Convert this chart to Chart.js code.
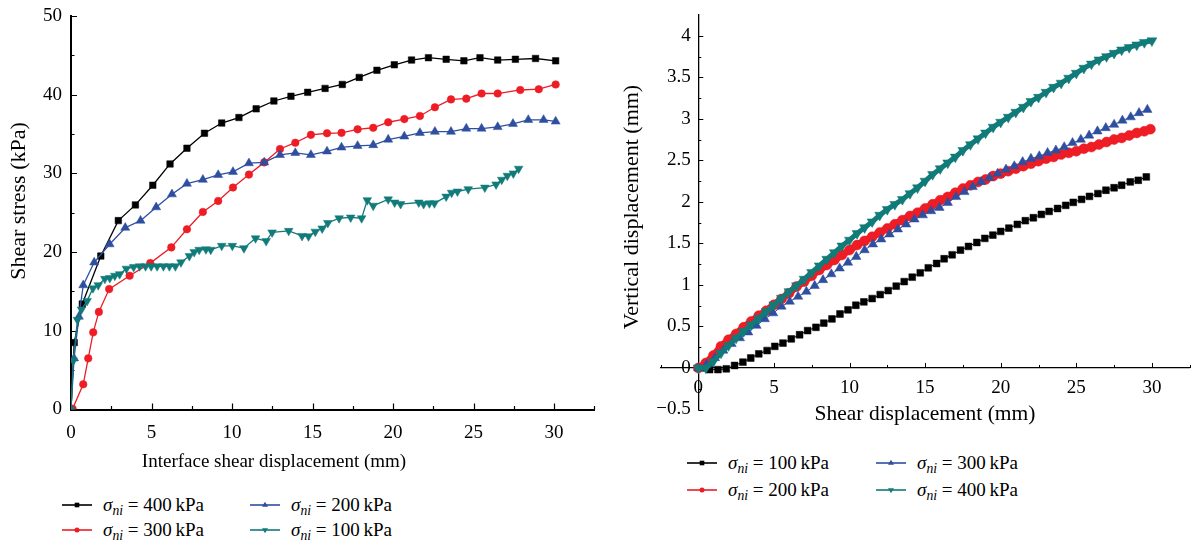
<!DOCTYPE html>
<html><head><meta charset="utf-8">
<script src="https://cdn.jsdelivr.net/npm/chart.js@4.4.1/dist/chart.umd.min.js"></script>
<style>
html,body{margin:0;padding:0;background:#fff;}
#wrap{position:relative;width:1196px;height:546px;overflow:hidden;font-family:'Liberation Serif','DejaVu Serif',serif;}
#c1{position:absolute;left:0;top:0;}
#c2{position:absolute;left:600px;top:0;}
.leg{position:absolute;display:flex;align-items:center;height:24px;font-size:19px;color:#000;white-space:nowrap;}
.leg svg{margin-right:11px;flex:none;}
.leg sub{font-size:0.72em;vertical-align:-0.32em;line-height:0;}
</style></head>
<body><div id="wrap">
<canvas id="c1" width="600" height="480"></canvas>
<canvas id="c2" width="596" height="430"></canvas>
</div>
<script>
// ---------- Left chart: shear stress (kPa) vs interface shear displacement (mm)
const shearTitleX = 'Interface shear displacement (mm)';
const shearTitleY = 'Shear stress (kPa)';
const shearXTicks = [0, 5, 10, 15, 20, 25, 30];
const shearYTicks = [0, 10, 20, 30, 40, 50];
const shearXMinor = [2.5, 7.5, 12.5, 17.5, 22.5, 27.5, 32.5];
const shearYMinor = [5, 15, 25, 35, 45];
const shearLabels = ['400', '300', '200', '100'];

const shearX400 = [0, 0.2, 0.7, 1.85, 2.94, 4.0, 5.08, 6.15, 7.2, 8.29, 9.36, 10.43, 11.5, 12.6, 13.66, 14.7, 15.78, 16.85, 17.9, 19.0, 20.08, 21.15, 22.2, 23.3, 24.4, 25.4, 26.5, 27.6, 28.85, 30.1];
const shearY400 = [0, 8.5, 13.4, 19.5, 24.0, 26.0, 28.5, 31.2, 33.2, 35.1, 36.4, 37.1, 38.2, 39.2, 39.8, 40.3, 40.8, 41.3, 42.2, 43.1, 43.8, 44.4, 44.7, 44.5, 44.3, 44.7, 44.4, 44.5, 44.6, 44.3];

const shearX300 = [0.1, 0.76, 1.07, 1.38, 1.73, 2.37, 3.64, 4.92, 6.23, 7.2, 8.19, 9.14, 10.06, 11.05, 12.0, 12.98, 13.93, 14.9, 15.9, 16.8, 17.8, 18.77, 19.7, 20.7, 21.67, 22.6, 23.6, 24.55, 25.5, 26.5, 27.9, 29.05, 30.1];
const shearY300 = [0.1, 3.2, 6.5, 9.8, 12.4, 15.3, 17.0, 18.6, 20.6, 22.9, 25.1, 26.5, 28.2, 29.85, 31.4, 33.1, 33.9, 34.9, 35.1, 35.15, 35.6, 35.8, 36.5, 36.9, 37.3, 38.4, 39.4, 39.5, 40.15, 40.15, 40.6, 40.7, 41.3];

const shearX200 = [0, 0.19, 0.49, 0.76, 1.44, 2.4, 3.37, 4.32, 5.29, 6.27, 7.2, 8.19, 9.14, 10.06, 11.05, 12.0, 12.98, 13.93, 14.9, 15.9, 16.8, 17.8, 18.77, 19.7, 20.7, 21.67, 22.6, 23.6, 24.55, 25.5, 26.5, 27.45, 28.4, 29.35, 30.1];
const shearY200 = [0, 6.5, 11.8, 15.8, 18.7, 21.0, 23.1, 24.0, 25.7, 27.35, 28.7, 29.2, 29.8, 30.2, 31.3, 31.4, 32.35, 32.6, 32.35, 32.8, 33.3, 33.5, 33.6, 34.3, 34.7, 35.15, 35.3, 35.3, 35.7, 35.7, 35.9, 36.3, 36.8, 36.8, 36.6];

const shearX100 = [0, 0.14, 0.4, 0.65, 1.0, 1.36, 1.69, 2.1, 2.41, 2.72, 3.02, 3.44, 3.89, 4.26, 4.63, 4.98, 5.35, 5.74, 6.11, 6.48, 6.83, 7.35, 7.65, 7.96, 8.38, 8.68, 9.36, 10.02, 10.74, 11.46, 12.12, 12.49, 13.52, 14.35, 14.75, 15.17, 15.6, 15.95, 16.65, 17.37, 18.05, 18.4, 18.77, 19.7, 20.1, 20.47, 21.6, 21.9, 22.26, 22.57, 23.3, 23.64, 24.0, 24.67, 25.7, 26.4, 26.75, 27.1, 27.47, 27.8];
const shearY100 = [0, 6.2, 11.4, 12.7, 13.8, 15.4, 15.8, 16.6, 16.7, 17.0, 17.2, 17.9, 18.1, 18.2, 18.2, 18.2, 18.2, 18.2, 18.2, 18.2, 18.7, 19.5, 20.0, 20.3, 20.35, 20.3, 20.8, 20.8, 20.5, 21.75, 21.4, 22.5, 22.7, 22.05, 22.0, 22.6, 23.0, 23.7, 24.3, 24.4, 24.3, 26.6, 25.9, 26.7, 26.3, 26.1, 26.3, 26.1, 26.2, 26.2, 27.05, 27.55, 27.7, 28.0, 28.2, 28.6, 29.2, 29.7, 30.0, 30.6];

// ---------- Right chart: vertical displacement (mm) vs shear displacement (mm)
const vertTitleX = 'Shear displacement (mm)';
const vertTitleY = 'Vertical displacement (mm)';
const vertXTicks = [0, 5, 10, 15, 20, 25, 30];
const vertYTicks = [-0.5, 0, 0.5, 1, 1.5, 2, 2.5, 3, 3.5, 4];
const vertXMinor = [-2.5, 2.5, 7.5, 12.5, 17.5, 22.5, 27.5, 32.5];
const vertYMinor = [-0.25, 0.25, 0.75, 1.25, 1.75, 2.25, 2.75, 3.25, 3.75];
const vertLabels = ['100', '200', '300', '400'];

const vertX100 = [0.2, 0.75, 1.3, 1.85, 2.4, 2.95, 3.47, 4.0, 4.55, 5.06, 5.6, 6.15, 6.7, 7.23, 7.78, 8.3, 8.84, 9.37, 9.9, 10.42, 10.95, 11.5, 12.03, 12.56, 13.09, 13.62, 14.15, 14.68, 15.21, 15.76, 16.26, 16.79, 17.34, 17.87, 18.42, 18.95, 19.48, 20.0, 20.54, 21.1, 21.63, 22.16, 22.69, 23.2, 23.76, 24.3, 24.8, 25.35, 25.87, 26.43, 26.96, 27.5, 28.0, 28.57, 29.1, 29.63];
const vertY100 = [0, -0.02, -0.02, -0.01, 0.03, 0.07, 0.12, 0.17, 0.21, 0.26, 0.30, 0.35, 0.40, 0.45, 0.49, 0.54, 0.59, 0.65, 0.70, 0.755, 0.796, 0.836, 0.884, 0.932, 0.985, 1.04, 1.093, 1.146, 1.206, 1.258, 1.315, 1.363, 1.419, 1.463, 1.511, 1.56, 1.6, 1.644, 1.684, 1.729, 1.773, 1.809, 1.849, 1.885, 1.92, 1.958, 1.994, 2.03, 2.066, 2.1, 2.14, 2.17, 2.2, 2.24, 2.26, 2.30];

const vertX200 = [0, 0.5, 1, 1.5, 2, 2.5, 3, 3.5, 4, 4.5, 5, 5.5, 6, 6.5, 7, 7.5, 8, 8.5, 9, 9.5, 10, 10.5, 11, 11.5, 12, 12.5, 13, 13.5, 14, 14.5, 15, 15.5, 16, 16.5, 17, 17.5, 18, 18.5, 19, 19.5, 20, 20.5, 21, 21.5, 22, 22.5, 23, 23.5, 24, 24.5, 25, 25.5, 26, 26.5, 27, 27.5, 28, 28.5, 29, 29.5, 29.9];
const vertY200 = [0, 0.06, 0.15, 0.26, 0.34, 0.41, 0.49, 0.56, 0.63, 0.69, 0.76, 0.83, 0.90, 0.98, 1.04, 1.11, 1.18, 1.24, 1.30, 1.36, 1.42, 1.48, 1.53, 1.58, 1.63, 1.68, 1.73, 1.78, 1.83, 1.87, 1.92, 1.97, 2.02, 2.06, 2.11, 2.16, 2.20, 2.24, 2.27, 2.31, 2.34, 2.37, 2.40, 2.43, 2.46, 2.49, 2.52, 2.54, 2.57, 2.59, 2.61, 2.64, 2.66, 2.69, 2.72, 2.75, 2.77, 2.80, 2.83, 2.85, 2.875];

const vertX300 = [0, 0.55, 1.1, 1.65, 2.2, 2.75, 3.3, 3.85, 4.4, 4.95, 5.5, 6.05, 6.6, 7.15, 7.7, 8.25, 8.8, 9.35, 9.9, 10.45, 11.0, 11.55, 12.1, 12.65, 13.2, 13.75, 14.3, 14.85, 15.4, 15.95, 16.5, 17.05, 17.6, 18.15, 18.7, 19.25, 19.8, 20.35, 20.9, 21.45, 22.0, 22.55, 23.1, 23.65, 24.2, 24.75, 25.3, 25.85, 26.4, 26.95, 27.5, 28.05, 28.6, 29.15, 29.7];
const vertY300 = [0, 0.04, 0.12, 0.21, 0.29, 0.36, 0.43, 0.51, 0.59, 0.66, 0.74, 0.80, 0.86, 0.92, 0.99, 1.06, 1.13, 1.20, 1.27, 1.34, 1.42, 1.49, 1.55, 1.61, 1.67, 1.73, 1.79, 1.84, 1.89, 1.93, 1.99, 2.06, 2.12, 2.18, 2.24, 2.29, 2.34, 2.39, 2.43, 2.48, 2.52, 2.55, 2.59, 2.62, 2.66, 2.71, 2.75, 2.80, 2.85, 2.89, 2.93, 2.98, 3.02, 3.07, 3.11];

const vertX400 = [0, 0.5, 1, 1.5, 2, 2.5, 3, 3.5, 4, 4.5, 5, 5.5, 6, 6.5, 7, 7.5, 8, 8.5, 9, 9.5, 10, 10.5, 11, 11.5, 12, 12.5, 13, 13.5, 14, 14.5, 15, 15.5, 16, 16.5, 17, 17.5, 18, 18.5, 19, 19.5, 20, 20.5, 21, 21.5, 22, 22.5, 23, 23.5, 24, 24.5, 25, 25.5, 26, 26.5, 27, 27.5, 28, 28.5, 29, 29.5, 30];
const vertY400 = [0, 0.0, 0.08, 0.18, 0.27, 0.36, 0.44, 0.52, 0.60, 0.68, 0.76, 0.84, 0.92, 0.99, 1.07, 1.15, 1.23, 1.31, 1.39, 1.47, 1.54, 1.62, 1.69, 1.76, 1.84, 1.91, 1.97, 2.03, 2.10, 2.17, 2.25, 2.33, 2.40, 2.47, 2.54, 2.62, 2.69, 2.76, 2.83, 2.90, 2.96, 3.02, 3.08, 3.14, 3.21, 3.26, 3.32, 3.38, 3.43, 3.49, 3.55, 3.61, 3.66, 3.71, 3.75, 3.79, 3.83, 3.86, 3.89, 3.92, 3.94];

// ---------- styling
const C_BLACK = '#000000', C_RED = '#ee1c25', C_BLUE = '#2e4f9f', C_TEAL = '#117b79';
const FONT = "'Liberation Serif', 'DejaVu Serif', serif";

function pts(xs, ys) { return xs.map((x, i) => ({x: x, y: ys[i]})); }
function fmt(v) { return v < 0 ? '\u2212' + Math.abs(v) : String(v); }
function noPad(s) { s.paddingTop = 0; s.paddingBottom = 0; s.paddingLeft = 0; s.paddingRight = 0; }

const axisDecor = {
  id: 'axisDecor',
  beforeDatasetsDraw(chart, args, o) {
    const {ctx, chartArea} = chart;
    const xs = chart.scales.x, ys = chart.scales.y;
    const xLine = o.xAxisAt == null ? chartArea.bottom : ys.getPixelForValue(o.xAxisAt);
    const yLine = o.yAxisAt == null ? chartArea.left : xs.getPixelForValue(o.yAxisAt);
    ctx.save();
    ctx.strokeStyle = '#000';
    ctx.lineWidth = o.tickWidth;
    ctx.beginPath();
    const vt = (vals, len) => vals.forEach(v => { const p = Math.round(xs.getPixelForValue(v)) + 0.5; ctx.moveTo(p, xLine); ctx.lineTo(p, xLine - len); });
    const ht = (vals, len) => vals.forEach(v => { const p = Math.round(ys.getPixelForValue(v)) + 0.5; ctx.moveTo(yLine, p); ctx.lineTo(yLine + len, p); });
    vt(o.xMajor, o.majorLen); vt(o.xMinor, o.minorLen);
    ht(o.yMajor, o.majorLen); ht(o.yMinor, o.minorLen);
    ctx.stroke();
    ctx.restore();
  },
  afterDraw(chart, args, o) {
    const ctx = chart.ctx;
    ctx.save();
    ctx.fillStyle = '#000';
    ctx.textAlign = 'center';
    ctx.textBaseline = 'middle';
    ctx.font = o.xTitleSize + 'px ' + FONT;
    ctx.fillText(o.xTitle, o.xTitlePos[0], o.xTitlePos[1]);
    ctx.font = o.yTitleSize + 'px ' + FONT;
    ctx.translate(o.yTitlePos[0], o.yTitlePos[1]);
    ctx.rotate(-Math.PI / 2);
    ctx.fillText(o.yTitle, 0, 0);
    ctx.restore();
  }
};

// ---------- Left chart
new Chart(document.getElementById('c1'), {
  type: 'scatter',
  data: {
    datasets: [
      {label: shearLabels[0], data: pts(shearX400, shearY400), showLine: true, borderColor: C_BLACK, backgroundColor: C_BLACK, borderWidth: 1.3, pointStyle: 'rect', pointRadius: 4.6, pointBorderWidth: 0.5, order: 3},
      {label: shearLabels[1], data: pts(shearX300, shearY300), showLine: true, borderColor: C_RED, backgroundColor: C_RED, borderWidth: 1.3, pointStyle: 'circle', pointRadius: 3.8, pointBorderWidth: 0.5, order: 2},
      {label: shearLabels[2], data: pts(shearX200, shearY200), showLine: true, borderColor: C_BLUE, backgroundColor: C_BLUE, borderWidth: 1.3, pointStyle: 'triangle', pointRadius: 5.2, pointBorderWidth: 0.5, order: 1},
      {label: shearLabels[3], data: pts(shearX100, shearY100), showLine: true, borderColor: C_TEAL, backgroundColor: C_TEAL, borderWidth: 1.3, pointStyle: 'triangle', rotation: 180, pointRadius: 5.0, pointBorderWidth: 0.5, order: 0}
    ]
  },
  options: {
    responsive: false, animation: false, events: [],
    layout: {padding: {left: 0, right: -2.9, top: 16, bottom: 0}},
    plugins: {
      legend: {display: false}, tooltip: {enabled: false},
      axisDecor: {xAxisAt: null, yAxisAt: null, xMajor: shearXTicks, xMinor: shearXMinor, yMajor: shearYTicks, yMinor: shearYMinor,
        majorLen: 6, minorLen: 3.5, tickWidth: 1.2, xTitleSize: 19, yTitleSize: 22,
        xTitle: shearTitleX, xTitlePos: [274, 462], yTitle: shearTitleY, yTitlePos: [19, 201]}
    },
    scales: {
      x: {type: 'linear', min: 0, max: 32.5,
        grid: {display: false, drawTicks: false},
        border: {display: true, color: '#000', width: 2},
        ticks: {color: '#000', font: {family: FONT, size: 19}, padding: 12, maxRotation: 0, callback: v => fmt(v)},
        afterBuildTicks: s => { s.ticks = shearXTicks.map(v => ({value: v})); },
        afterFit: s => { s.height = 70.5; noPad(s); }},
      y: {type: 'linear', min: 0, max: 50,
        grid: {display: false, drawTicks: false},
        border: {display: true, color: '#000', width: 2},
        ticks: {color: '#000', font: {family: FONT, size: 19}, padding: 9, callback: v => fmt(v)},
        afterBuildTicks: s => { s.ticks = shearYTicks.map(v => ({value: v})); },
        afterFit: s => { s.width = 71; noPad(s); }}
    }
  },
  plugins: [axisDecor]
});

// ---------- Right chart
new Chart(document.getElementById('c2'), {
  type: 'scatter',
  data: {
    datasets: [
      {label: vertLabels[0], data: pts(vertX100, vertY100), showLine: true, borderColor: C_BLACK, backgroundColor: C_BLACK, borderWidth: 1, pointStyle: 'rect', pointRadius: 4.8, pointBorderWidth: 0.5, order: 3},
      {label: vertLabels[1], data: pts(vertX200, vertY200), showLine: true, borderColor: C_RED, backgroundColor: C_RED, borderWidth: 7, pointStyle: 'circle', pointRadius: 5, pointBorderWidth: 0.5, order: 2},
      {label: vertLabels[2], data: pts(vertX300, vertY300), showLine: true, borderColor: C_BLUE, backgroundColor: C_BLUE, borderWidth: 1, pointStyle: 'triangle', pointRadius: 5.4, pointBorderWidth: 0.5, order: 1},
      {label: vertLabels[3], data: pts(vertX400, vertY400), showLine: true, borderColor: C_TEAL, backgroundColor: C_TEAL, borderWidth: 5, pointStyle: 'triangle', rotation: 180, pointRadius: 5.8, pointBorderWidth: 0.5, order: 0}
    ]
  },
  options: {
    responsive: false, animation: false, events: [],
    layout: {padding: {left: 60.5, right: 5.3, top: 15, bottom: 20.5}},
    plugins: {
      legend: {display: false}, tooltip: {enabled: false},
      axisDecor: {xAxisAt: 0, yAxisAt: 0, xMajor: vertXTicks, xMinor: vertXMinor, yMajor: vertYTicks, yMinor: vertYMinor,
        majorLen: 5, minorLen: 3, tickWidth: 1, xTitleSize: 21.5, yTitleSize: 22,
        xTitle: vertTitleX, xTitlePos: [325, 414], yTitle: vertTitleY, yTitlePos: [32, 207]}
    },
    scales: {
      x: {type: 'linear', min: -2.5, max: 32.5, position: {y: 0},
        grid: {display: false, drawTicks: false},
        border: {display: true, color: '#000', width: 1.3},
        ticks: {color: '#000', font: {family: FONT, size: 19}, padding: 9, maxRotation: 0, callback: v => fmt(v)},
        afterBuildTicks: s => { s.ticks = vertXTicks.map(v => ({value: v})); },
        afterFit: s => { noPad(s); }},
      y: {type: 'linear', min: -0.5, max: 4.25, position: {x: 0},
        grid: {display: false, drawTicks: false},
        border: {display: true, color: '#000', width: 1.3},
        ticks: {color: '#000', font: {family: FONT, size: 19}, padding: 9, callback: v => fmt(v) + '\u2009\u2009'},
        afterBuildTicks: s => { s.ticks = vertYTicks.map(v => ({value: v})); },
        afterFit: s => { noPad(s); }}
    }
  },
  plugins: [axisDecor]
});

// ---------- HTML legends (σ_ni subscript as real text)
const markerSvg = {
  rect: c => `<rect x="12.7" y="9.7" width="4.6" height="4.6" fill="${c}"/>`,
  circle: c => `<circle cx="15" cy="12" r="2.5" fill="${c}"/>`,
  up: c => `<polygon points="15,8.8 12,13.8 18,13.8" fill="${c}"/>`,
  down: c => `<polygon points="15,15.2 12,10.2 18,10.2" fill="${c}"/>`
};
function addLegend(items) {
  const wrap = document.getElementById('wrap');
  items.forEach(it => {
    const d = document.createElement('div');
    d.className = 'leg';
    d.style.left = it.x + 'px';
    d.style.top = (it.y - 12) + 'px';
    d.innerHTML = `<svg width="30" height="24"><line x1="0" y1="12" x2="30" y2="12" stroke="${it.c}" stroke-width="1.6"/>${markerSvg[it.m](it.c)}</svg>` +
      `<span><i>σ<sub>ni</sub></i> = ${it.p}\u2009kPa</span>`;
    wrap.appendChild(d);
  });
}
addLegend([
  {x: 62, y: 505, c: C_BLACK, m: 'rect', p: shearLabels[0]},
  {x: 62, y: 530, c: C_RED, m: 'circle', p: shearLabels[1]},
  {x: 250, y: 505, c: C_BLUE, m: 'up', p: shearLabels[2]},
  {x: 250, y: 530, c: C_TEAL, m: 'down', p: shearLabels[3]},
  {x: 687, y: 463, c: C_BLACK, m: 'rect', p: vertLabels[0]},
  {x: 687, y: 490, c: C_RED, m: 'circle', p: vertLabels[1]},
  {x: 876, y: 463, c: C_BLUE, m: 'up', p: vertLabels[2]},
  {x: 876, y: 490, c: C_TEAL, m: 'down', p: vertLabels[3]}
]);
</script>
</body></html>
